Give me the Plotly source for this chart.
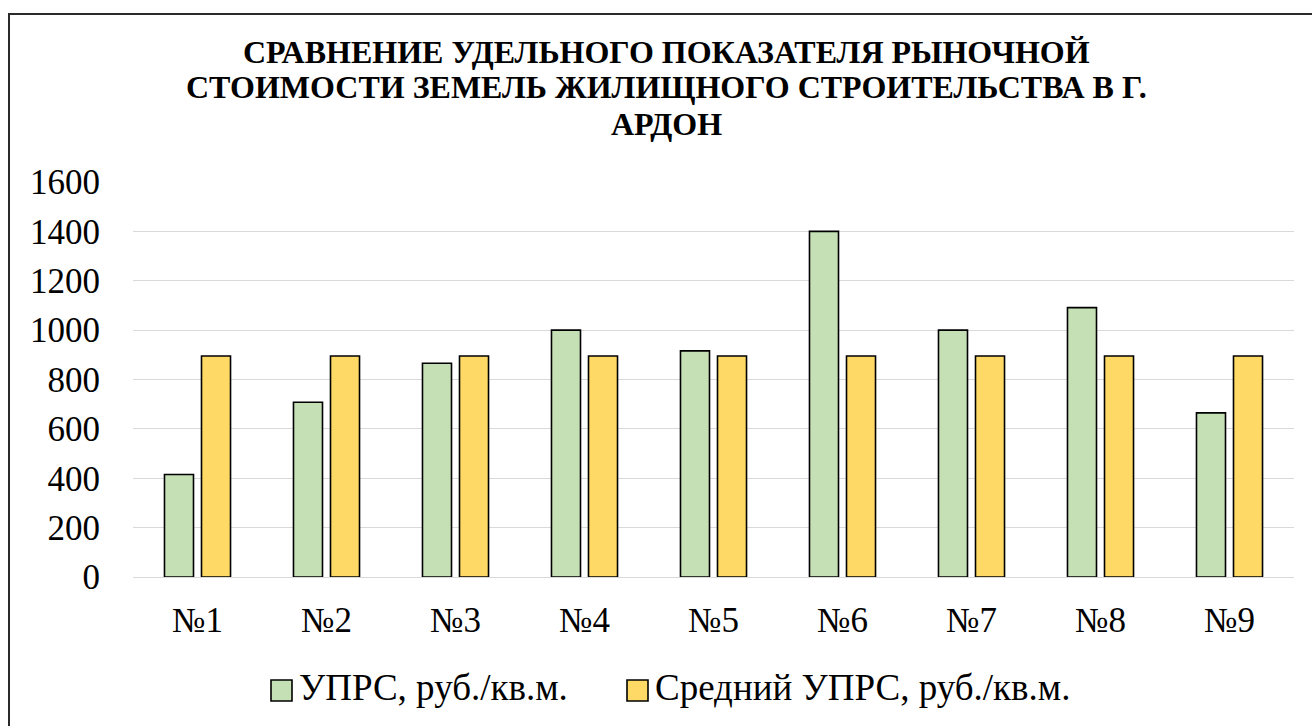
import plotly.graph_objects as go

# Categories and series
categories = ["№1", "№2", "№3", "№4", "№5", "№6", "№7", "№8", "№9"]
uprs = [415, 708, 866, 1000, 916, 1400, 1000, 1091, 665]
uprs_avg = [895, 895, 895, 895, 895, 895, 895, 895, 895]
series_names = ["УПРС, руб./кв.м.", "Средний УПРС, руб./кв.м."]
y_ticks = [0, 200, 400, 600, 800, 1000, 1200, 1400, 1600]

title_lines = ["СРАВНЕНИЕ УДЕЛЬНОГО ПОКАЗАТЕЛЯ РЫНОЧНОЙ",
               "СТОИМОСТИ ЗЕМЕЛЬ ЖИЛИЩНОГО СТРОИТЕЛЬСТВА В Г.",
               "АРДОН"]

GREEN = "#C5E0B4"
YELLOW = "#FFD966"
FONT = "Liberation Serif"

W, H = 1312, 726
ML, MR, MT, MB = 133, 18, 182, 149
PW, PH = W - ML - MR, H - MT - MB


def px_x(px):
    return (px - ML) / PW


def px_y(py):
    return (H - MB - py) / PH


fig = go.Figure()
fig.add_trace(go.Bar(x=categories, y=uprs, name=series_names[0],
                     marker=dict(color=GREEN, line=dict(color="black", width=1.6)),
                     showlegend=False))
fig.add_trace(go.Bar(x=categories, y=uprs_avg, name=series_names[1],
                     marker=dict(color=YELLOW, line=dict(color="black", width=1.6)),
                     showlegend=False))

shapes = [
    # outer frame of the chart
    dict(type="rect", xref="paper", yref="paper",
         x0=px_x(9), x1=px_x(1330), y0=px_y(760), y1=px_y(14),
         line=dict(color="#2a2a2a", width=2), fillcolor="rgba(0,0,0,0)", layer="above"),
]

# legend: swatches and labels
legend_items = [(271, GREEN, series_names[0]), (627, YELLOW, series_names[1])]
annotations = []
for x0, col, label in legend_items:
    shapes.append(dict(type="rect", xref="paper", yref="paper",
                       x0=px_x(x0), x1=px_x(x0 + 21), y0=px_y(701), y1=px_y(680),
                       fillcolor=col, line=dict(color="black", width=1.6)))
    annotations.append(dict(x=px_x(x0 + 26), y=px_y(687.5), xref="paper", yref="paper",
                            xanchor="left", yanchor="middle", showarrow=False,
                            text=label, font=dict(family=FONT, size=37, color="black")))

# title, one annotation per line for tight line spacing
for line, yc in zip(title_lines, [52, 86.5, 123.5]):
    annotations.append(dict(x=px_x(666), y=px_y(yc), xref="paper", yref="paper",
                            xanchor="center", yanchor="middle", showarrow=False,
                            text="<b>" + line + "</b>",
                            font=dict(family=FONT, size=32, color="black")))

fig.update_layout(
    width=W, height=H,
    margin=dict(l=ML, r=MR, t=MT, b=MB),
    paper_bgcolor="white", plot_bgcolor="white",
    barmode="group", bargap=0.426, bargroupgap=0.216,
    shapes=shapes, annotations=annotations,
    font=dict(family=FONT, color="black"),
)
fig.update_xaxes(type="category", showline=False, ticks="", showgrid=False,
                 tickfont=dict(family=FONT, size=35, color="black"),
                 ticklabelstandoff=19)
fig.update_yaxes(range=[0, 1600], tickvals=y_ticks, showline=False, ticks="",
                 showgrid=True, gridcolor="#D9D9D9", gridwidth=1.3,
                 zeroline=True, zerolinecolor="#D9D9D9", zerolinewidth=1.3,
                 tickfont=dict(family=FONT, size=35, color="black"),
                 ticklabelstandoff=32)

fig.write_html("out.html")
